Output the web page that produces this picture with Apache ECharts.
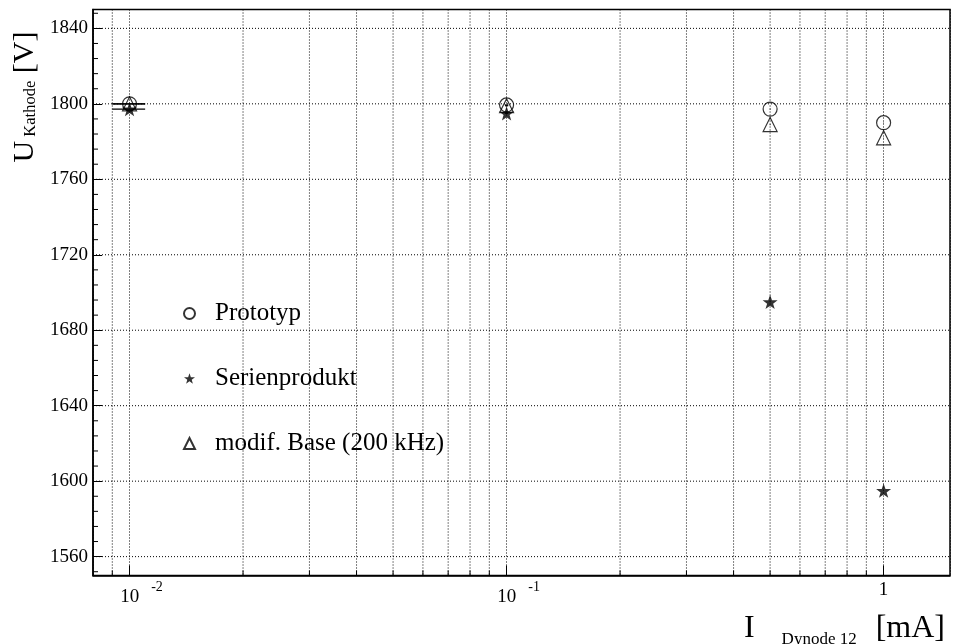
<!DOCTYPE html>
<html><head><meta charset="utf-8">
<script src="https://cdn.jsdelivr.net/npm/echarts@6/dist/echarts.min.js"></script>
<style>html,body{margin:0;padding:0;background:#fff}#c{width:962px;height:644px}</style>
</head><body><div id="c"></div>
<script>
// ---- data ----
const xValues = [0.01, 0.1, 0.5, 1];
const xErrors = [0.001, 0.001, 0.001, 0.001];
const prototyp = [1800, 1799.4, 1797.2, 1790];
const serienprodukt = [1797.2, 1795, 1695, 1595];
const modifBase = [1800, 1799, 1789, 1782];
const seriesNames = ['Prototyp', 'Serienprodukt', 'modif. Base (200 kHz)'];
// ---- axis ticks ----
const xMinorTicks = [0.009, 0.02, 0.03, 0.04, 0.05, 0.06, 0.07, 0.08, 0.09, 0.2, 0.3, 0.4, 0.5, 0.6, 0.7, 0.8, 0.9];
const xTickLabels = [[0.01, '10', '-2'], [0.1, '10', '-1'], [1, '1', '']];
const yTickLabels = [1560, 1600, 1640, 1680, 1720, 1760, 1800, 1840];
const yMinorStep = 8;
const yMin = 1550, yMax = 1850;
const xMin = 0.008, xMax = 1.5;

const FONT = 'Liberation Serif';
const STAR = 'path://M50,0 L61.8,35.1 L97.6,34.5 L69,56.7 L79.4,90.5 L50,70 L20.6,90.5 L31,56.7 L2.4,34.5 L38.2,35.1 Z';

const yMinorTicks = [];
for (let v = yTickLabels[0] - yMinorStep; v <= yMax; v += yMinorStep) {
  if (v >= yMin && yTickLabels.indexOf(v) < 0) yMinorTicks.push(v);
}

const chart = echarts.init(document.getElementById('c'), null, {renderer: 'canvas'});

function pts(ys) { return xValues.map((x, i) => [x, ys[i]]); }
function errPts(ys) { return xValues.map((x, i) => [x, ys[i], xErrors[i]]); }

function errRender(params, api) {
  const x = api.value(0), y = api.value(1), e = api.value(2);
  const p1 = api.coord([x - e, y]), p2 = api.coord([x + e, y]);
  return {type: 'line', shape: {x1: p1[0], y1: p1[1], x2: p2[0], y2: p2[1]},
    style: {stroke: '#000', lineWidth: 1.3}};
}

function xMinorRender(params, api) {
  const cs = params.coordSys;
  const px = api.coord([api.value(0), yMin])[0];
  const bottom = cs.y + cs.height;
  return {type: 'group', children: [
    {type: 'line', shape: {x1: px, y1: cs.y, x2: px, y2: bottom},
      style: {stroke: '#000', lineWidth: 1, lineDash: [1, 2]}},
    {type: 'line', shape: {x1: px, y1: bottom, x2: px, y2: bottom - 5},
      style: {stroke: '#000', lineWidth: 1}}
  ]};
}

function yGridRender(params, api) {
  const cs = params.coordSys;
  const py = api.coord([xMin, api.value(1)])[1];
  return {type: 'line', shape: {x1: cs.x, y1: py, x2: cs.x + cs.width, y2: py},
    style: {stroke: '#000', lineWidth: 1, lineDash: [1, 2]}};
}

function yMinorRender(params, api) {
  const cs = params.coordSys;
  const py = api.coord([xMin, api.value(1)])[1];
  return {type: 'line', shape: {x1: cs.x, y1: py, x2: cs.x + 5, y2: py},
    style: {stroke: '#000', lineWidth: 1}};
}

function xLabel(v) {
  for (const t of xTickLabels) {
    if (Math.abs(Math.log10(v) - Math.log10(t[0])) < 1e-6) {
      if (t[2] === '') return '{o|' + t[1] + '}';
      return '{e| }{b|' + t[1] + '}{s|' + t[2] + '}';
    }
  }
  return '';
}

const option = {
  backgroundColor: '#fff',
  animation: false,
  grid: {left: 93, top: 9.5, width: 857, height: 566, show: true,
    borderColor: '#000', borderWidth: 1.5, backgroundColor: 'transparent'},
  xAxis: {
    type: 'log', logBase: 10, min: xMin, max: xMax,
    axisLine: {show: true, lineStyle: {color: '#000', width: 1.5}},
    axisTick: {show: true, inside: true, length: 10, lineStyle: {color: '#000', width: 1}},
    splitLine: {show: true, lineStyle: {color: '#000', width: 1, type: [1, 2]}},
    axisLabel: {
      margin: 5, color: '#000', fontFamily: FONT, fontSize: 19,
      formatter: xLabel, showMinLabel: false, showMaxLabel: false,
      rich: {
        e: {width: 24, fontSize: 19, fontFamily: FONT},
        b: {fontSize: 19, fontFamily: FONT, color: '#000'},
        s: {fontSize: 14, fontFamily: FONT, color: '#000', padding: [0, 0, 20, 12]},
        o: {fontSize: 19, fontFamily: FONT, color: '#000', padding: [0, 0, 14, 0]}
      }
    }
  },
  yAxis: {
    type: 'value', min: yMin, max: yMax,
    axisLine: {show: true, lineStyle: {color: '#000', width: 1.5}},
    axisTick: {show: true, inside: true, length: 9, customValues: yTickLabels,
      lineStyle: {color: '#000', width: 1}},
    splitLine: {show: false},
    axisLabel: {
      margin: 5, color: '#000', fontFamily: FONT, fontSize: 19,
      customValues: yTickLabels, showMinLabel: true, showMaxLabel: true,
      formatter: v => String(v)
    }
  },
  legend: {
    orient: 'vertical', left: 178, top: 296, itemGap: 40,
    itemWidth: 11, itemHeight: 11,
    data: seriesNames,
    textStyle: {fontFamily: FONT, fontSize: 25, color: '#000', lineHeight: 25, padding: [0, 0, 0, 15]}
  },
  series: [
    {type: 'custom', name: 'xminor', silent: true, z: 1, renderItem: xMinorRender,
      data: xMinorTicks.map(v => [v, yMin])},
    {type: 'custom', name: 'ygrid', silent: true, z: 1, renderItem: yGridRender,
      data: yTickLabels.map(v => [xMin, v])},
    {type: 'custom', name: 'yminor', silent: true, z: 1, renderItem: yMinorRender,
      data: yMinorTicks.map(v => [xMin, v])},
    {type: 'custom', name: 'errP', silent: true, z: 2, renderItem: errRender, data: errPts(prototyp)},
    {type: 'custom', name: 'errS', silent: true, z: 2, renderItem: errRender, data: errPts(serienprodukt)},
    {type: 'custom', name: 'errM', silent: true, z: 2, renderItem: errRender, data: errPts(modifBase)},
    {type: 'scatter', name: seriesNames[0], z: 3, symbol: 'circle', symbolSize: 14,
      itemStyle: {color: 'transparent', borderColor: '#000', borderWidth: 1.2},
      data: pts(prototyp)},
    {type: 'scatter', name: seriesNames[1], z: 3, symbol: STAR, symbolSize: 15, symbolKeepAspect: true,
      itemStyle: {color: '#000', borderWidth: 0},
      data: pts(serienprodukt)},
    {type: 'scatter', name: seriesNames[2], z: 3, symbol: 'triangle', symbolSize: 14,
      itemStyle: {color: 'transparent', borderColor: '#000', borderWidth: 1.2},
      data: pts(modifBase)}
  ],
  graphic: [
    {type: 'text', x: 25, y: 97, rotation: Math.PI / 2, silent: true,
      style: {text: '{b|U}{s| Kathode}{b| [V]}', align: 'center', verticalAlign: 'middle',
        rich: {
          b: {fontSize: 30, fontFamily: FONT, fill: '#000', color: '#000'},
          s: {fontSize: 16.5, fontFamily: FONT, fill: '#000', color: '#000', padding: [12, 0, 0, 0]}
        }}},
    {type: 'text', right: 17, bottom: -4, silent: true,
      style: {text: '{i|I}{s|Dynode 12}{b|[mA]}', align: 'right', verticalAlign: 'bottom',
        rich: {
          i: {fontSize: 32, fontFamily: FONT, fill: '#000', color: '#000', padding: [0, 27, 6, 0]},
          b: {fontSize: 32, fontFamily: FONT, fill: '#000', color: '#000', padding: [0, 0, 6, 0]},
          s: {fontSize: 17, fontFamily: FONT, fill: '#000', color: '#000', padding: [15, 19, 0, 0]}
        }}}
  ]
};
chart.setOption(option);
</script>
</body></html>
